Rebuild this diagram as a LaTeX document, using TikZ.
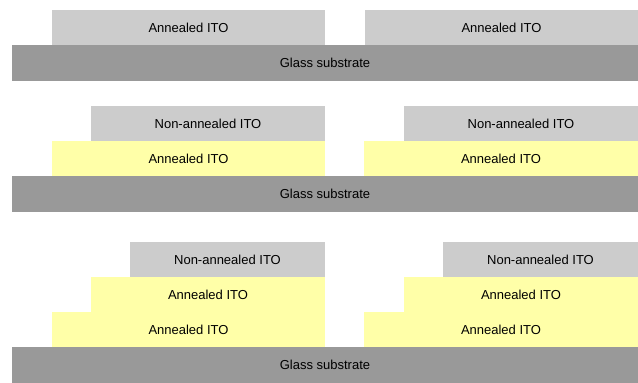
\documentclass[tikz,border=0pt]{standalone}
\usepackage{fontspec}
\setmainfont{Liberation Sans}
\definecolor{itogray}{HTML}{CCCCCC}
\definecolor{glassgray}{HTML}{999999}
\definecolor{itoyellow}{HTML}{FFFFA8}

\begin{document}
\begin{tikzpicture}[x=1pt, y=-1pt, font=\fontsize{13}{15}\selectfont,
  layer/.style = {rectangle, inner sep=0pt, outer sep=0pt, minimum height=35pt},
  glass/.style = {layer, fill=glassgray, minimum width=626pt, minimum height=36pt},
  nonann/.style = {layer, fill=itogray},
  ann/.style = {layer, fill=itoyellow}]
  \useasboundingbox (0,0) rectangle (638,383);
  % first sample
  \node[glass, anchor=north west] (g1) at (12,45) {Glass substrate};
  \node[nonann, minimum width=273pt, anchor=south east] (i1l) at (325,45) {Annealed ITO};
  \node[nonann, minimum width=273pt, anchor=south east] (i1r) at (g1.north east) {Annealed ITO};
  % second sample
  \node[glass, anchor=north west] (g2) at (12,176) {Glass substrate};
  \node[ann, minimum width=273pt, anchor=south east] (a2l) at (325,176) {Annealed ITO};
  \node[nonann, minimum width=234pt, anchor=south east] (n2l) at (a2l.north east) {Non-annealed ITO};
  \node[ann, minimum width=274pt, anchor=south east] (a2r) at (g2.north east) {Annealed ITO};
  \node[nonann, minimum width=234pt, anchor=south east] (n2r) at (a2r.north east) {Non-annealed ITO};
  % third sample
  \node[glass, anchor=north west] (g3) at (12,347) {Glass substrate};
  \node[ann, minimum width=273pt, anchor=south east] (a3l) at (325,347) {Annealed ITO};
  \node[ann, minimum width=234pt, anchor=south east] (b3l) at (a3l.north east) {Annealed ITO};
  \node[nonann, minimum width=195pt, anchor=south east] (n3l) at (b3l.north east) {Non-annealed ITO};
  \node[ann, minimum width=274pt, anchor=south east] (a3r) at (g3.north east) {Annealed ITO};
  \node[ann, minimum width=234pt, anchor=south east] (b3r) at (a3r.north east) {Annealed ITO};
  \node[nonann, minimum width=195pt, anchor=south east] (n3r) at (b3r.north east) {Non-annealed ITO};
\end{tikzpicture}
\end{document}
